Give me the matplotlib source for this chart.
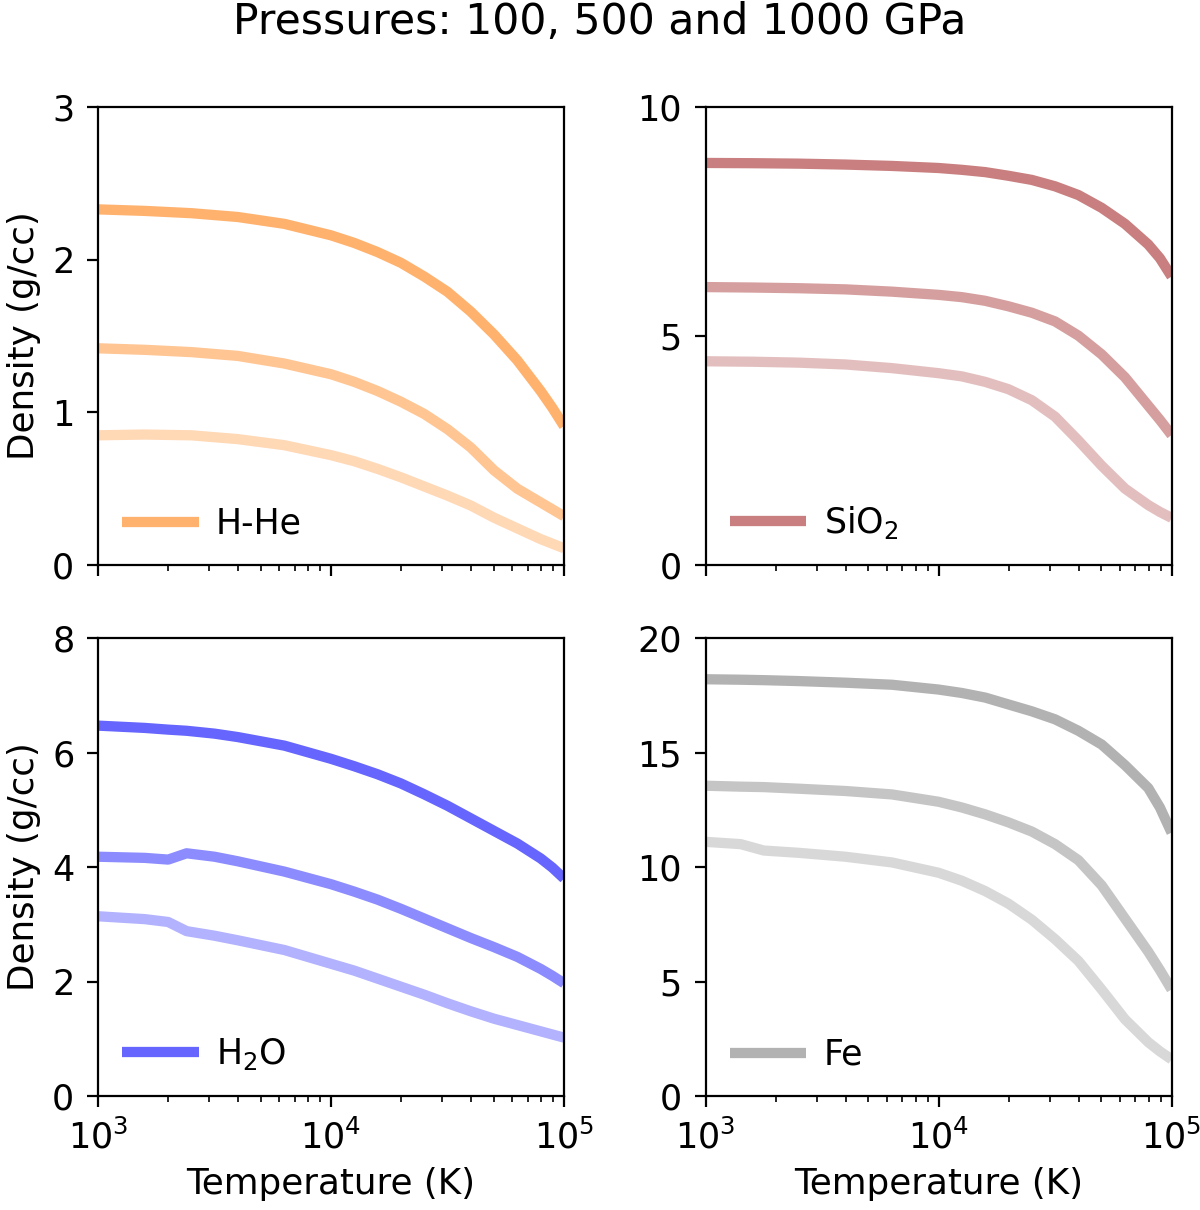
import numpy as np
import matplotlib
matplotlib.use('Agg')
import matplotlib.pyplot as plt

# temperature grids (K)
T_grid = [1000, 1585, 2512, 3981, 6310, 10000, 12590, 15850, 19950, 25120,
          31620, 39810, 50120, 63100, 79430, 89130, 100000]
T_h2o = [1000, 1585, 2000, 2400, 3162, 3981, 6310, 10000, 12590, 15850,
         19950, 25120, 31620, 39810, 50120, 63100, 79430, 89130, 100000]
T_fe = [1000, 1413, 1778, 2512, 3981, 6310, 10000, 12590, 15850, 19950,
        25120, 31620, 39810, 50120, 63100, 79430, 89130, 100000]

# densities (g/cc) at 1000, 500, 100 GPa
hhe_1000 = [2.33, 2.32, 2.305, 2.28, 2.235, 2.16, 2.11, 2.05, 1.98, 1.89,
            1.79, 1.66, 1.51, 1.34, 1.14, 1.03, 0.91]
hhe_500 = [1.42, 1.41, 1.395, 1.37, 1.32, 1.25, 1.20, 1.14, 1.07, 0.99,
           0.89, 0.77, 0.62, 0.50, 0.41, 0.365, 0.32]
hhe_100 = [0.85, 0.855, 0.85, 0.825, 0.785, 0.72, 0.68, 0.63, 0.575, 0.515,
           0.455, 0.39, 0.31, 0.24, 0.17, 0.14, 0.11]

sio2_1000 = [8.78, 8.775, 8.765, 8.745, 8.715, 8.67, 8.63, 8.58, 8.50, 8.41,
             8.27, 8.08, 7.80, 7.45, 7.00, 6.70, 6.30]
sio2_500 = [6.07, 6.06, 6.045, 6.02, 5.97, 5.90, 5.85, 5.77, 5.65, 5.51,
            5.32, 5.01, 4.60, 4.10, 3.48, 3.17, 2.84]
sio2_100 = [4.45, 4.44, 4.42, 4.38, 4.30, 4.19, 4.12, 4.00, 3.84, 3.60,
            3.24, 2.72, 2.17, 1.67, 1.31, 1.16, 1.03]

h2o_1000 = [6.47, 6.43, 6.40, 6.38, 6.33, 6.27, 6.12, 5.89, 5.76, 5.62,
            5.46, 5.27, 5.07, 4.85, 4.63, 4.41, 4.15, 3.99, 3.80]
h2o_500 = [4.18, 4.16, 4.13, 4.24, 4.18, 4.10, 3.92, 3.70, 3.57, 3.43,
           3.27, 3.10, 2.93, 2.76, 2.60, 2.43, 2.22, 2.10, 1.97]
h2o_100 = [3.14, 3.09, 3.04, 2.88, 2.80, 2.72, 2.55, 2.31, 2.19, 2.05,
           1.91, 1.77, 1.62, 1.48, 1.35, 1.24, 1.13, 1.075, 1.02]

fe_1000 = [18.2, 18.18, 18.16, 18.12, 18.05, 17.96, 17.75, 17.6, 17.4, 17.1,
           16.8, 16.45, 15.95, 15.35, 14.45, 13.45, 12.6, 11.5]
fe_500 = [13.55, 13.51, 13.49, 13.42, 13.32, 13.17, 12.85, 12.6, 12.3, 11.95,
          11.55, 11.0, 10.3, 9.2, 7.75, 6.3, 5.5, 4.65]
fe_100 = [11.1, 11.0, 10.72, 10.62, 10.45, 10.2, 9.75, 9.4, 8.95, 8.4,
          7.7, 6.85, 5.9, 4.65, 3.35, 2.35, 1.95, 1.6]

panels = [
    ('H-He', 'tab:orange', T_grid, [hhe_1000, hhe_500, hhe_100], 3, [0, 1, 2, 3]),
    ('SiO$_2$', 'brown', T_grid, [sio2_1000, sio2_500, sio2_100], 10, [0, 5, 10]),
    ('H$_2$O', 'blue', T_h2o, [h2o_1000, h2o_500, h2o_100], 8, [0, 2, 4, 6, 8]),
    ('Fe', 'gray', T_fe, [fe_1000, fe_500, fe_100], 20, [0, 5, 10, 15, 20]),
]
alphas = [0.6, 0.45, 0.3]

fig = plt.figure(figsize=(6, 6.05), dpi=200)
lefts = [0.0817, 0.588]
bottoms = [0.533, 0.0942]
w, h = 0.3883, 0.3785

for i, (name, col, T, series, ymax, yt) in enumerate(panels):
    r, c = divmod(i, 2)
    ax = fig.add_axes([lefts[c], bottoms[r], w, h])
    for j, rho in enumerate(series):
        ax.plot(T, rho, color=col, alpha=alphas[j], lw=3.7,
                solid_joinstyle='round', solid_capstyle='butt',
                label=name if j == 0 else None)
    ax.set_xscale('log')
    ax.set_xlim(1e3, 1e5)
    ax.set_ylim(0, ymax)
    ax.set_yticks(yt)
    ax.tick_params(which='major', labelsize=12.6, length=4, pad=4.5)
    ax.tick_params(which='minor', length=2.3)
    ax.legend(loc='lower left', frameon=False, fontsize=12.5,
              handlelength=2.2, handletextpad=0.5, borderaxespad=0.3)
    if r == 0:
        ax.tick_params(axis='x', which='both', labelbottom=False)
    else:
        ax.set_xlabel('Temperature (K)', fontsize=12.85)
    if c == 0:
        ax.set_ylabel('Density (g/cc)', fontsize=12.85)

fig.suptitle('Pressures: 100, 500 and 1000 GPa', fontsize=15.3, y=0.982, va='center')

plt.savefig('out.png', dpi=200)
plt.close()
